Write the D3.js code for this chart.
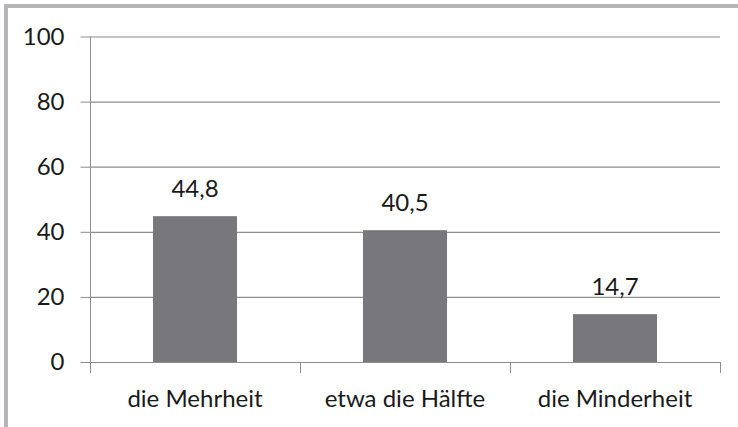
<!DOCTYPE html>
<html><head><meta charset="utf-8">
<script src="https://cdn.jsdelivr.net/npm/d3@7"></script>
<style>html,body{margin:0;padding:0;background:#fff;}svg{display:block;}</style>
</head><body>
<script>
const categories = ["die Mehrheit", "etwa die Hälfte", "die Minderheit"];
const values = [44.8, 40.5, 14.7];
const valueLabels = ["44,8", "40,5", "14,7"];
const yTicks = [0, 20, 40, 60, 80, 100];

(function () {
const W = 738, H = 427;
const svg = d3.select("body").append("svg").attr("width", W).attr("height", H);
const font = "Lato, 'Open Sans', sans-serif";
const fs = 24;

// frame (top and left grey edges)
svg.append("rect").attr("x", 0).attr("y", 0).attr("width", W).attr("height", H).attr("fill", "#fff");
svg.append("rect").attr("x", 4).attr("y", 4).attr("width", W - 4).attr("height", 4).attr("fill", "#b6b6b8");
svg.append("rect").attr("x", 4).attr("y", 4).attr("width", 4).attr("height", H - 4).attr("fill", "#b6b6b8");

const pl = 90, pr = 720, pt = 36.5, pb = 362;
const x = d3.scaleBand().domain(categories).range([pl, pr]).padding(0);
const y = d3.scaleLinear().domain([0, 100]).range([pb, pt]);

// gridlines
svg.append("g").selectAll("line").data(yTicks.filter(d => d > 0)).join("line")
  .attr("x1", pl).attr("x2", pr)
  .attr("y1", d => y(d) + 0.5).attr("y2", d => y(d) + 0.5)
  .attr("stroke", "#8e8e92").attr("stroke-width", 1.2);

// y axis
const yAxis = svg.append("g").attr("transform", `translate(${pl + 0.5},0)`)
  .call(d3.axisLeft(y).tickValues(yTicks).tickSize(10).tickPadding(16).tickFormat(d3.format("d")));
yAxis.select(".domain").attr("stroke", "#8e8e92").attr("d", `M0,${pt}V${pb + 10}`);
yAxis.selectAll(".tick line").attr("stroke", "#8e8e92");
yAxis.selectAll(".tick text").attr("font-family", font).attr("font-size", fs).attr("fill", "#1a1a1a");

// bars
const bw = x.bandwidth() * 0.4;
svg.append("g").selectAll("rect").data(values).join("rect")
  .attr("x", (d, i) => x(categories[i]) + (x.bandwidth() - bw) / 2)
  .attr("y", d => y(d))
  .attr("width", bw)
  .attr("height", d => y(0) - y(d))
  .attr("fill", "#78787c");

// x axis
const xAxis = svg.append("g").attr("transform", `translate(0,${pb + 0.5})`)
  .call(d3.axisBottom(x).tickSize(0).tickPadding(27));
xAxis.select(".domain").attr("stroke", "#8e8e92").attr("d", `M${pl},0H${pr}`);
xAxis.selectAll(".tick text").attr("font-family", font).attr("font-size", fs).attr("fill", "#1a1a1a");
// category boundary ticks
svg.append("g").selectAll("line").data(categories.concat([null])).join("line")
  .attr("x1", (d, i) => (i < categories.length ? x(d) : pr) + 0.5)
  .attr("x2", (d, i) => (i < categories.length ? x(d) : pr) + 0.5)
  .attr("y1", pb).attr("y2", pb + 11)
  .attr("stroke", "#8e8e92");

// value labels
svg.append("g").selectAll("text").data(values).join("text")
  .attr("x", (d, i) => x(categories[i]) + x.bandwidth() / 2)
  .attr("y", d => y(d) - 19)
  .attr("text-anchor", "middle")
  .attr("font-family", font).attr("font-size", fs).attr("fill", "#1a1a1a")
  .text((d, i) => valueLabels[i]);
})();
</script>
</body></html>
